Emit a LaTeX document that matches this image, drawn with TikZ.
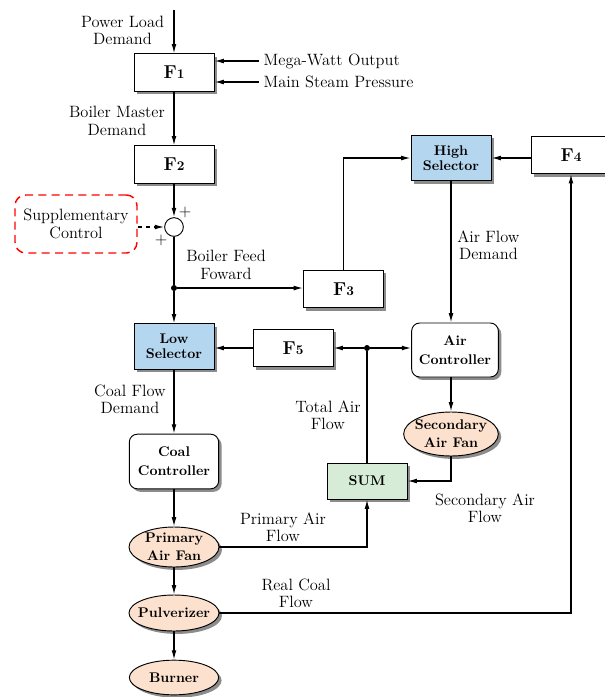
\documentclass[tikz,border=0pt]{standalone}
\usetikzlibrary{positioning, shapes.geometric, shadows, arrows.meta, calc}
\definecolor{selblau}{RGB}{180,214,238}
\definecolor{sumgruen}{RGB}{214,236,214}
\definecolor{fanpfirsich}{RGB}{252,226,206}
\newcommand{\Findex}[1]{F{\fontsize{10}{12}\selectfont #1}}
\tikzset{
    schatten/.style={drop shadow={shadow xshift=2.2pt, shadow yshift=-2.2pt, fill=black!45, opacity=1}},
    fbox/.style={draw, line width=0.7pt, fill=white, schatten, minimum width=60pt, minimum height=28pt, font=\fontsize{14}{16}\selectfont\bfseries},
    selbox/.style={draw, line width=0.7pt, schatten, minimum width=60pt, minimum height=34pt, align=center, font=\fontsize{10.5}{11.5}\selectfont\bfseries},
    ctrlbox/.style={draw, line width=0.7pt, rounded corners=6pt, fill=white, schatten, align=center, font=\fontsize{10.5}{14}\selectfont\bfseries},
    fan/.style={ellipse, draw, line width=0.7pt, fill=fanpfirsich, schatten, inner sep=0pt},
    fantext/.style={align=center, font=\fontsize{10.5}{13.5}\selectfont\bfseries},
    lbl/.style={align=center, font=\fontsize{12.3}{13}\selectfont},
    pfeil/.style={-{Latex[length=7pt,width=3.6pt]}, line width=0.9pt},
    linie/.style={line width=0.9pt},
    punkt/.style={circle, fill, inner sep=0pt, minimum size=4.5pt},
}

\begin{document}
\begin{tikzpicture}[x=0.75pt, y=-0.75pt]

% Rahmen (Bildgroesse)
\useasboundingbox (0,0) rectangle (605,697);

% Eingang oben
\coordinate (start) at (174,10);
\node[lbl] (pld) at (122.5,30.5) {Power Load\\Demand};

% Bloecke F1 bis F5
\node[fbox] (F1) at (174,72.5) {\Findex{1}};
\node[fbox] (F2) at (174,164.5) {\Findex{2}};
\node[fbox] (F3) at (343.5,289) {\Findex{3}};
\node[fbox] (F4) at (571,155) {\Findex{4}};
\node[fbox] (F5) at (293,348) {\Findex{5}};

% Selektoren
\node[selbox, fill=selblau] (high) at (451,158) {High\\Selector};
\node[selbox, fill=selblau] (low) at (174,346.5) {Low\\Selector};

% Regler
\node[ctrlbox, minimum width=65pt, minimum height=40.5pt] (airc) at (455,350) {Air\\Controller};
\node[ctrlbox, minimum width=67pt, minimum height=41pt] (coalc) at (174,461.5) {Coal\\Controller};

% Summe
\node[selbox, fill=sumgruen, minimum height=27pt] (sumblock) at (367,481) {SUM};

% Geblaese, Muehle, Brenner
\node[fan, minimum width=71pt, minimum height=33pt, label={[fantext]center:Secondary\\Air Fan}] (secfan) at (451,434) {};
\node[fan, minimum width=67.5pt, minimum height=30pt, label={[fantext]center:Primary\\Air Fan}] (prifan) at (174,547) {};
\node[fan, minimum width=67.5pt, minimum height=27pt, label={[fantext]center:Pulverizer}] (pulv) at (174,613) {};
\node[fan, minimum width=67pt, minimum height=26pt, label={[fantext]center:Burner}] (burner) at (174,677.5) {};

% Zusatzregelung und Summierstelle
\node[lbl, draw=red, line width=1.1pt, dash pattern=on 6pt off 4pt, rounded corners=8pt, minimum width=91.5pt, minimum height=43.5pt] (supp) at (76,224) {Supplementary\\Control};
\node[circle, draw, line width=0.7pt, fill=white, minimum size=14pt, inner sep=0pt] (mix) at (174,227) {};
\node[lbl] (plusA) at (185,212) {+};
\node[lbl] (plusB) at (161,240) {+};

% Verzweigungen
\node[punkt] (J1) at (174,288) {};
\node[punkt] (J2) at (367,348) {};

% Seiteneingaenge F1
\node[lbl, anchor=west] (mwo) at (259,61) {Mega-Watt Output};
\node[lbl, anchor=west] (msp) at (259,82) {Main Steam Pressure};

% Beschriftungen
\node[lbl] (bmd) at (117,121) {Boiler Master\\Demand};
\node[lbl] (bff) at (226,265) {Boiler Feed\\Foward};
\node[lbl, anchor=west, inner sep=0pt] (afd) at (457,245.5) {Air Flow\\Demand};
\node[lbl] (cfd) at (130,399.5) {Coal Flow\\Demand};
\node[lbl] (taf) at (328,415) {Total Air\\Flow};
\node[lbl] (paf) at (283,527) {Primary Air\\Flow};
\node[lbl] (saf) at (485,508.5) {Secondary Air\\Flow};
\node[lbl] (rcf) at (296,593.5) {Real Coal\\Flow};

% Hauptstrang
\draw[pfeil] (start) -- (F1);
\draw[pfeil] (mwo.west) -- (mwo.west -| F1.east);
\draw[pfeil] (msp.west) -- (msp.west -| F1.east);
\draw[pfeil] (F1) -- (F2);
\draw[pfeil] (F2) -- (mix);
\draw[pfeil, dashed] (supp.east |- mix) -- (mix.west);
\draw[linie] (mix.south) -- (J1);
\draw[pfeil] (J1) -- (low);
\draw[pfeil] (J1) -- (J1 -| F3.west);
\draw[pfeil] (F3.north) |- (high.west);
\draw[pfeil] (F4.west |- high) -- (high.east);
\draw[pfeil] (high.south) -- (high.south |- airc.north);
\draw[pfeil] (F5.west) -- (F5.west -| low.east);
\draw[pfeil] (J2) -- (F5);
\draw[pfeil] (J2) -- (airc.west |- J2);
\draw[linie] (sumblock.north) -- (J2);
\draw[pfeil] (secfan.north |- airc.south) -- (secfan.north);
\draw[pfeil] (secfan.south) |- (sumblock.east);

% Kohlestrang
\draw[pfeil] (low) -- (coalc);
\draw[pfeil] (coalc) -- (prifan);
\draw[pfeil] (prifan.east) -| (sumblock.south);
\draw[pfeil] (prifan) -- (pulv);
\draw[pfeil] (pulv) -- (burner);
\draw[pfeil] (pulv.east) -| (F4.south);

\end{tikzpicture}
\end{document}
